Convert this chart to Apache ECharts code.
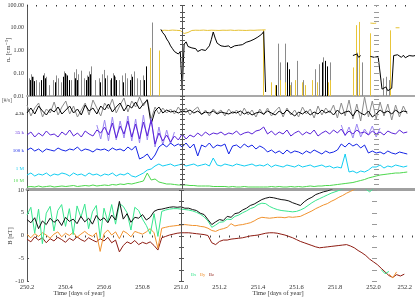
<!DOCTYPE html>
<html><head><meta charset="utf-8">
<script src="https://cdn.jsdelivr.net/npm/echarts@6/dist/echarts.min.js"></script>
<style>html,body{margin:0;padding:0;background:#fff}#c{width:415px;height:302px}</style>
</head><body><div id="c"></div>
<script>
// ---------- axis / tick labels ----------
const X_MIN = 250.2, X_MAX = 252.2;
const xTickLabels = ['250.2','250.4','250.6','250.8','251.0','251.2','251.4','251.6','251.8','252.0','252.2'];
const neTickLabels = ['0.01','0.10','1.00','10.00','100.00'];
const bTickLabels = ['-10','-5','0','5','10'];
const channelLabels = ['4.3k','35 k','100 k','1 M','10 M'];
const bLegend = ['Bx','By','Bz'];
const dayMarkers = [251.0, 252.0];

// common time grid (days of year), step 0.02 d
const days = [];
for (let i = 0; i < 99; i++) days.push(+(250.2 + 0.02 * i).toFixed(2));

// ---------- panel 1 : density (log) ----------
const graySpikeDay = [250.210,250.221,250.231,250.246,250.262,250.288,250.298,250.313,250.334,250.349,250.360,250.375,250.391,250.401,250.427,250.442,250.453,250.463,250.478,250.494,250.509,250.520,250.530,250.551,250.571,250.587,250.597,250.612,250.628,250.643,250.654,250.674,250.690,250.705,250.715,250.736,250.752,250.767,250.782,250.798,250.813,250.844,251.494,251.504,251.530,251.561,251.592,251.623,251.685,251.705,251.726,251.762,251.901,251.927,252.035,252.051,252.066];
const graySpikeTop = [0.06,0.09,0.07,0.05,0.04,0.10,0.07,0.03,0.05,0.08,0.06,0.04,0.12,0.09,0.05,0.11,0.15,0.09,0.13,0.06,0.08,0.12,0.20,0.05,0.06,0.09,0.14,0.08,0.05,0.10,0.07,0.05,0.08,0.10,0.06,0.09,0.12,0.06,0.05,0.08,0.10,17,2.0,0.3,2.0,0.04,0.35,0.05,0.15,0.25,0.5,0.3,0.8,0.3,0.06,0.07,0.05];
const blackSpikeDay = [250.215,250.226,250.236,250.272,250.282,250.293,250.344,250.386,250.396,250.406,250.416,250.447,250.458,250.504,250.514,250.525,250.576,250.602,250.633,250.648,250.659,250.695,250.731,250.741,250.803,250.813,251.484,251.540,251.551,251.721,251.736,251.746];
const blackSpikeTop = [0.05,0.07,0.045,0.05,0.08,0.06,0.04,0.07,0.10,0.08,0.05,0.06,0.05,0.05,0.07,0.09,0.04,0.06,0.06,0.08,0.05,0.04,0.05,0.07,0.05,0.2,0.03,0.3,0.15,0.3,0.35,0.2];
const goldSpikeDay = [250.834,250.880,251.416,251.458,251.478,251.504,251.530,251.556,251.581,251.617,251.633,251.669,251.695,251.752,251.762,251.880,251.896,251.911,251.968,252.071];
const goldSpikeTop = [1.3,1.0,8.0,0.04,0.03,0.05,0.04,0.03,0.05,0.04,0.03,0.05,0.04,0.04,0.05,0.18,13,18,5.7,7.7];
// continuous density segments (start day, step 0.01 d)
const neSegStart = [250.89, 251.88, 251.97];
const neSeg = [
  [8.5,6.0,4.8,3.2,2.4,1.6,1.2,0.9,1.1,0.7,0.9,0.02,1.9,2.4,1.5,1.7,1.3,1.1,1.2,0.9,1.0,1.1,0.9,1.0,1.2,1.6,3.0,6.5,3.5,2.1,1.9,1.6,1.8,1.5,1.4,1.6,1.3,1.5,1.6,1.4,1.7,1.9,1.8,2.1,2.3,2.2,2.6,2.9,3.1,3.4,3.9,4.3,5.2,6.8,0.015],
  [0.6,0.5,0.7,0.5,0.6],
  [0.55,0.6,0.5,0.6,0.55,0.6,0.02,0.018,0.025,0.017,0.02,0.022,0.6,0.5,0.65,0.55,0.5,0.62,0.48,0.58,0.6,0.52,0.57,0.6]
];
const goldSegStart = [250.89, 251.97, 252.10];
const goldSegStep = [0.02, 0.01, 0.01];
const goldSeg = [
  [7.5,7.8,7.6,7.9,7.7,7.5,5.6,6.2,7.6,7.8,7.7,7.9,7.6,7.8,7.7,7.6,7.8,7.7,7.9,7.6,7.8,7.7,7.6,7.8,7.7,7.9,8.0,8.1],
  [16,16.5,15.5,16],
  [10,10.5,10]
];

// ---------- panel 2 : channel fluxes (relative log level) ----------
const fluxBlack = [7.6,8.1,7.5,8.3,7.8,7.4,8.0,7.7,8.2,7.5, 7.9,8.3,7.6,8.0,7.4,8.4,7.8,8.1,7.5,8.3, 7.9,8.5,7.7,8.2,8.6,7.8,8.4,8.1,8.7,8.0, 8.5,8.9,6.5,7.8,8.2,7.6,7.9,7.7,7.8,7.6, 7.8,7.7,7.9,7.6,7.8,7.5,7.7,7.6,7.8,7.5, 7.7,7.6,7.5,7.7,7.6,7.8,7.5,7.7,7.4,7.6, 7.7,7.5,7.8,7.6,7.4,7.8,7.5,7.9,7.6,7.3, 7.7,7.5,7.8,7.4,7.7,7.5,7.9,7.6,7.8,7.4, 7.9,7.5,7.7,7.8,7.3,7.9,7.6,7.4,7.8,7.2, 7.5,7.9,7.6,7.8,7.5,7.9,7.6,7.8,7.7];
const fluxGray = [8.4,7.3,8.1,8.6,7.2,8.0,7.6,8.7,7.4,8.2, 8.8,7.5,8.3,7.2,7.9,8.6,7.4,8.9,8.1,7.3, 8.6,8.0,9.0,7.6,8.4,9.1,7.7,8.8,8.2,9.2, 8.3,9.0,7.0,8.2,7.5,8.1,7.6,8.0,7.5,8.2, 7.6,8.1,7.4,7.9,8.2,7.4,7.9,7.3,8.0,7.6, 7.9,7.3,8.0,7.5,7.9,7.3,8.1,7.4,7.9,7.2, 8.0,7.4,8.1,7.3,7.8,8.2,7.2,8.1,7.4,7.9, 7.2,8.2,7.5,8.0,7.1,8.3,7.4,8.1,7.6,8.4, 7.1,8.6,7.3,8.9,7.0,8.5,6.8,9.2,7.2,8.8, 7.0,8.7,7.3,8.5,6.9,8.4,7.2,8.3,7.5];
const fluxPurple = [5.4,5.7,5.2,5.6,5.3,5.8,5.4,5.5,5.2,5.7, 5.4,5.9,5.3,5.6,5.2,5.8,5.5,5.3,5.9,5.6, 6.2,5.4,6.6,5.1,6.3,5.5,6.8,5.2,6.5,5.0, 6.7,5.3,6.9,4.5,5.6,4.8,5.4,4.7,5.3,4.9, 5.5,5.0,5.4,5.2,5.6,5.3,5.7,5.4,5.6,5.5, 5.7,5.4,5.6,5.5,5.8,5.4,5.6,5.7,5.5,5.8, 5.9,6.2,5.5,5.8,5.4,5.7,5.5,5.9,5.3,5.6, 5.8,5.4,5.7,5.5,5.9,5.3,5.6,5.8,5.5,5.9, 5.6,6.0,5.4,5.8,5.5,5.9,5.6,5.7,5.4,5.8, 5.5,5.7,5.4,5.8,5.6,5.5,5.9,5.6,5.7];
const fluxLavender = [null,null,null,null,null,null,null,null,null,null, null,null,null,null,null,null,null,null,6.4,5.0, 6.9,4.8,7.2,4.9,6.8,5.1,7.3,4.8,7.0,4.6, 7.4,4.9,7.1,4.2,6.2,4.4,5.9,4.5,5.7,null, null,null,null,null,null,null,null,null,null,null, null,null,null,null,null,null,null,null,null,null, null,null,null,null,null,null,null,null,null,null, null,null,null,null,null,null,null,null,null,null, null,6.4,5.3,6.2,5.1,6.5,5.2,6.0,5.4,6.3, 5.2,6.1,null,null,null,null,null,null,null];
const fluxBlue = [3.9,4.1,3.8,4.0,3.7,4.0,3.9,3.8,4.1,3.9, 3.8,4.0,3.9,4.2,3.8,4.0,3.9,3.7,4.0,3.9, 4.0,3.8,4.1,3.9,4.0,3.8,4.2,3.9,4.3,3.0, 3.2,3.5,2.9,3.4,4.2,4.5,4.2,4.6,4.3,4.5, 4.2,4.6,4.1,4.5,3.3,4.4,4.2,4.6,4.1,4.4, 4.3,4.5,3.5,4.3,4.4,4.1,4.5,4.2,4.4,4.0, 4.3,4.1,3.7,3.9,3.6,3.8,3.5,3.9,3.6,3.8, 3.7,3.5,3.8,3.6,3.9,3.7,3.5,3.8,3.6,3.7, 3.9,4.5,4.2,4.6,4.3,4.5,4.1,4.4,3.6,3.8, 3.6,3.7,3.5,3.8,3.6,3.5,3.7,3.6,3.5];
const fluxCyan = [1.4,1.6,1.3,1.5,1.4,1.6,1.3,1.5,1.4,1.6, 1.5,1.3,1.6,1.4,1.5,1.3,1.6,1.4,1.5,1.3, 1.5,1.4,1.6,1.3,1.5,1.4,1.6,1.3,1.2,1.4, 1.6,1.9,2.0,2.3,2.5,2.3,2.4,2.5,2.3,2.4, 2.5,2.3,2.4,2.5,2.3,2.4,2.5,2.3,3.1,2.4, 2.3,2.5,2.4,2.3,2.5,2.4,2.3,2.4,2.5,2.3, 2.4,2.3,2.5,2.2,2.4,2.3,2.2,2.4,2.3,2.2, 2.4,2.2,2.3,2.4,2.2,2.3,2.4,2.2,2.3,2.1, 2.2,2.1,3.5,1.7,1.8,1.6,1.8,1.7,1.9,2.2, 2.2,2.4,2.1,2.3,2.2,2.4,2.3,2.2,2.3];
const fluxGreen = [0.2,0.25,0.2,0.3,0.2,0.25,0.3,0.2,0.25,0.3, 0.25,0.3,0.35,0.25,0.3,0.35,0.3,0.4,0.3,0.35, 0.4,0.35,0.45,0.4,0.5,0.45,0.55,0.5,0.6,0.7, 0.8,1.6,0.9,1.0,0.7,0.6,0.5,0.5,0.45,0.4, 0.4,0.4,0.35,0.35,0.3,0.3,0.3,0.3,0.25,0.25, 0.25,0.25,0.2,0.25,0.2,0.2,0.25,0.2,0.2,0.2, 0.2,0.2,0.2,0.25,0.2,0.25,0.2,0.2,0.25,0.2, 0.25,0.2,0.25,0.3,0.25,0.3,0.3,0.35,0.35,0.4, 0.45,0.5,0.55,0.6,0.65,0.75,0.85,0.95,1.1,1.2, 1.3,1.4,1.45,1.5,1.55,1.6,1.6,1.65,1.7];

// ---------- panel 3 : magnetic field [nT] ----------
const bTot = [3.5,2.8,3.9,1.5,3.2,2.4,3.8,2.9,3.5,2.2, 4.0,3.1,3.6,2.6,4.2,3.0,3.8,2.5,4.4,3.3, 3.9,2.8,4.5,3.4,7.5,3.6,4.8,2.9,4.0,3.8, 4.6,3.4,4.0,5.3,5.7,5.8,6.0,6.2,6.3,6.2, 6.3,6.0,6.0,5.7,5.5,4.9,4.6,3.5,2.4,3.0, 3.5,3.3,4.2,4.0,4.8,5.0,5.6,6.0,6.6,6.9, 7.4,7.9,8.2,8.4,8.3,8.1,7.9,7.8,7.6,7.2, 6.9,6.6,7.4,8.0,8.4,9.0,9.3,9.6,9.8,10.1, 10.5,10.8,11.2,null,null,null,null,null,null,null, null,null,null,null,null,null,null,null,null];
const bx = [4.5,6.2,0.5,5.8,-1.8,4.9,6.4,1.0,5.5,6.8, 2.0,5.9,0.2,6.5,4.0,6.9,1.5,5.2,6.6,-0.5, 6.0,3.0,6.8,2.5,7.0,6.4,5.0,1.2,6.2,5.5, 3.6,2.2,0.3,4.8,-0.2,5.3,5.6,5.8,5.9,5.9, 5.8,5.7,5.6,5.4,5.1,4.7,4.1,3.2,1.8,2.3, 2.9,3.0,3.6,3.5,4.2,4.5,5.0,5.4,5.9,6.2, 6.8,7.1,7.0,6.4,6.0,5.7,5.5,5.4,5.3,5.2, 5.3,5.6,6.0,6.6,7.2,7.7,8.1,8.5,8.9,9.3, 9.6,9.9,10.2,10.5,10.8,11.0,11.0,10.8,10.2,9.6, 10.3,null,-7.5,-8.4,-7.9,null,null,null,null];
const by = [0.2,-0.5,0.4,-0.2,0.6,0.1,-0.6,0.3,0.8,-0.3, 0.5,0.0,0.7,-0.4,0.3,0.9,0.2,-0.2,0.6,-3.5, 0.4,1.2,0.1,0.8,-0.7,1.0,0.5,-0.3,0.9,0.6, 0.3,0.8,1.5,0.6,-2.8,1.6,1.8,2.0,2.1,2.2, 2.3,2.4,2.3,2.2,2.2,2.0,1.9,1.6,1.1,0.9, 1.3,1.5,1.8,2.6,2.1,2.3,2.4,2.6,2.8,3.2, 3.7,4.0,3.9,3.8,3.9,4.0,4.0,3.9,4.1,4.0, 4.1,4.2,4.6,5.0,5.4,5.9,6.3,6.7,7.0,7.5, 7.9,8.4,8.8,9.3,9.7,10.1,10.6,11.0,11.0,11.0, null,null,null,null,-8.5,-9.3,-8.0,null,null];
const bz = [-0.8,-1.4,-0.3,-1.0,-0.5,-1.6,-0.7,-1.2,-0.4,-0.9, -1.5,-0.6,-1.1,-0.3,-0.9,-1.3,-0.5,-1.0,-1.4,-0.7, -1.2,-0.4,-1.6,-1.0,-3.6,-2.2,-1.4,-1.8,-1.1,-2.0, -1.5,-1.8,-1.4,-2.2,-3.2,-0.5,-0.2,0.1,0.3,0.5, 0.6,0.6,0.6,0.5,0.4,0.3,0.2,0.0,-1.6,-2.0, -1.3,-1.0,-1.0,-0.8,-0.7,-0.6,-0.5,-0.3,-0.1,0.0, 0.1,0.3,0.5,0.6,0.6,0.5,0.3,0.1,-0.2,-0.5, -0.9,-1.3,-1.6,-1.9,-2.2,-2.5,-2.7,-2.6,-2.5,-2.4, -2.3,-2.2,-2.1,-2.0,-2.3,-2.7,-3.3,-3.8,-4.4,-5.2, -5.8,-6.4,-7.2,-8.0,-8.8,-9.2,-8.6,-8.9,-8.5];

// ---------- build ----------
const FONT = '"Liberation Serif","DejaVu Serif",serif';
const pair = (arr) => days.map((d, i) => [d, arr[i] == null ? '-' : arr[i]]);
function segData(starts, steps, segs) {
  const out = [];
  segs.forEach((s, k) => {
    s.forEach((v, i) => out.push([+(starts[k] + steps[k] * i).toFixed(3), v]));
    out.push([starts[k], '-']);
  });
  return out;
}
function lineS(x, y, data, color, w) {
  return { type: 'line', xAxisIndex: x, yAxisIndex: y, data, symbol: 'none', showSymbol: false,
    lineStyle: { color, width: w || 1 }, connectNulls: false, animation: false, silent: true, z: 3 };
}
function spikeS(dayArr, topArr, color) {
  return { type: 'custom', xAxisIndex: 0, yAxisIndex: 0, data: dayArr.map((d, i) => [d, topArr[i]]),
    encode: { x: 0, y: 1 }, animation: false, silent: true, z: 3,
    renderItem: (p, api) => {
      const a = api.coord([api.value(0), 0.01]);
      const b = api.coord([api.value(0), api.value(1)]);
      const xx = Math.round(a[0]) + 0.5;
      return { type: 'line', shape: { x1: xx, y1: a[1], x2: xx, y2: b[1] }, style: { stroke: color, lineWidth: 1 } };
    } };
}
// tick marks along the day-boundary markers
const markerTickVals = [
  [0.01,0.02,0.03,0.05,0.1,0.2,0.3,0.5,1,2,3,5,10,20,30,50,100],
  [], []
];
for (let v = 0.5; v < 9.3; v += 0.5) markerTickVals[1].push(v);
for (let v = -10; v <= 10; v += 2.5) markerTickVals[2].push(v);
const gridX = [0, 2, 3];
function markerS(g, dv, color, withLine) {
  const s = { type: 'custom', xAxisIndex: gridX[g], yAxisIndex: g, data: markerTickVals[g].map((v) => [dv, v]),
    encode: { x: 0, y: 1 }, animation: false, silent: true, z: 4,
    renderItem: (p, api) => {
      const c = api.coord([api.value(0), api.value(1)]);
      const x = Math.round(c[0]) + 0.5, y = Math.round(c[1]) + 0.5;
      return { type: 'line', shape: { x1: x - 2.5, y1: y, x2: x + 2.5, y2: y }, style: { stroke: color, lineWidth: 1 } };
    } };
  if (withLine) s.markLine = { silent: true, symbol: 'none', animation: false, label: { show: false },
    lineStyle: { color, width: 1, type: 'solid' }, data: [{ xAxis: dv }] };
  return s;
}
const noAxis = { axisLine: { show: false }, axisTick: { show: false }, axisLabel: { show: false }, splitLine: { show: false } };
const xCommon = { type: 'value', min: X_MIN, max: X_MAX, interval: 0.2 };
const xAxes = [
  Object.assign({}, xCommon, noAxis, { gridIndex: 0, axisLine: { show: true, lineStyle: { color: '#a9a9a9', width: 2 } } }),
  Object.assign({}, xCommon, noAxis, { gridIndex: 0, position: 'top', interval: 0.05, axisTick: { show: true, inside: true, length: 1.5, lineStyle: { color: '#333' } } }),
  Object.assign({}, xCommon, noAxis, { gridIndex: 1, axisLine: { show: true, lineStyle: { color: '#a0a0a0', width: 3 } } }),
  Object.assign({}, xCommon, noAxis, { gridIndex: 2,
    axisTick: { show: true, length: 2, lineStyle: { color: '#444' } },
    minorTick: { show: true, splitNumber: 4, length: 2, lineStyle: { color: '#444' } },
    axisLabel: { show: true, fontSize: 6.5, fontFamily: FONT, color: '#333', margin: 3, alignMaxLabel: 'right',
      formatter: (v) => { const k = Math.round((v - X_MIN) / 0.2); return xTickLabels[k] || ''; } } })
];
const yAxes = [
  Object.assign({ gridIndex: 0, type: 'log', logBase: 10, min: 0.01, max: 100 }, noAxis, { axisLine: { show: true, lineStyle: { color: '#555' } },
    axisLabel: { show: true, fontSize: 6, fontFamily: FONT, color: '#333', margin: 3,
      formatter: (v) => neTickLabels[Math.round(Math.log10(v)) + 2] } }),
  Object.assign({ gridIndex: 1, type: 'value', min: 0, max: 9.3 }, noAxis, { axisLine: { show: true, lineStyle: { color: '#555' } } }),
  Object.assign({ gridIndex: 2, type: 'value', min: -10, max: 10, interval: 5 }, noAxis, { axisLine: { show: true, lineStyle: { color: '#555' } },
    axisTick: { show: true, inside: true, length: 2, lineStyle: { color: '#555' } },
    axisLabel: { show: true, fontSize: 6.5, fontFamily: FONT, color: '#333', margin: 3,
      formatter: (v) => bTickLabels[Math.round((v + 10) / 5)] } })
];

const series = [
  spikeS(graySpikeDay, graySpikeTop, '#8a8a8a'),
  spikeS(goldSpikeDay, goldSpikeTop, '#e8c53a'),
  spikeS(blackSpikeDay, blackSpikeTop, '#000'),
  lineS(0, 0, segData(goldSegStart, goldSegStep, goldSeg), '#e6c235'),
  lineS(0, 0, segData(neSegStart, [0.01, 0.01, 0.01], neSeg), '#000'),
  lineS(2, 1, pair(fluxGray), '#8c8c8c'),
  lineS(2, 1, pair(fluxBlack), '#000'),
  lineS(2, 1, pair(fluxLavender), '#9c88f2'),
  lineS(2, 1, pair(fluxPurple), '#5a22d8'),
  lineS(2, 1, pair(fluxBlue), '#1424e6'),
  lineS(2, 1, pair(fluxCyan), '#12cdf2'),
  lineS(2, 1, pair(fluxGreen), '#4cd84c'),
  lineS(3, 2, pair(bz), '#8e1c12'),
  lineS(3, 2, pair(by), '#f0922e'),
  lineS(3, 2, pair(bx), '#38e68e'),
  lineS(3, 2, pair(bTot), '#111')
];
[0, 1, 2].forEach((g) => {
  series.push(markerS(g, dayMarkers[0], '#555', true));
  series.push(markerS(g, dayMarkers[1], '#9a9a9a', false));
});

const txt = (x, y, t, o) => ({ type: 'text', x, y, silent: true, z: 10,
  style: Object.assign({ text: t, font: '6px ' + FONT, fill: '#333', align: 'left', verticalAlign: 'middle' }, o || {}) });
const chColors = ['#000', '#5a22d8', '#1424e6', '#12cdf2', '#4cd84c'];
const chY = [114, 133, 151, 169, 181];
const graphics = [
  txt(8, 50, 'nₑ [cm⁻³]', { align: 'center', font: '6.5px ' + FONT }),
  txt(10, 236, 'B [nT]', { align: 'center', font: '6.5px ' + FONT }),
  txt(2, 101, '[#/s]', { font: '5.5px ' + FONT, fill: '#555' }),
  txt(79, 293, 'Time [days of year]', { align: 'center', font: '6.5px ' + FONT }),
  txt(278, 293, 'Time [days of year]', { align: 'center', font: '6.5px ' + FONT })
];
graphics[0].rotation = Math.PI / 2;
graphics[1].rotation = Math.PI / 2;
channelLabels.forEach((t, k) => graphics.push(txt(24, chY[k], t, { align: 'right', fill: chColors[k], font: '5px ' + FONT })));
['#38e68e', '#f0922e', '#8e1c12'].forEach((c, k) => graphics.push(txt(191 + 9 * k, 275, bLegend[k], { fill: c, font: '4.5px ' + FONT })));

const chart = echarts.init(document.getElementById('c'), null, { renderer: 'canvas' });
chart.setOption({
  animation: false,
  backgroundColor: '#fff',
  grid: [
    { left: 27, right: 0, top: 5, height: 91 },
    { left: 27, right: 0, top: 96, height: 93 },
    { left: 27, right: 0, top: 190, height: 91 }
  ],
  xAxis: xAxes,
  yAxis: yAxes,
  series,
  graphic: graphics
});
</script>
</body></html>
